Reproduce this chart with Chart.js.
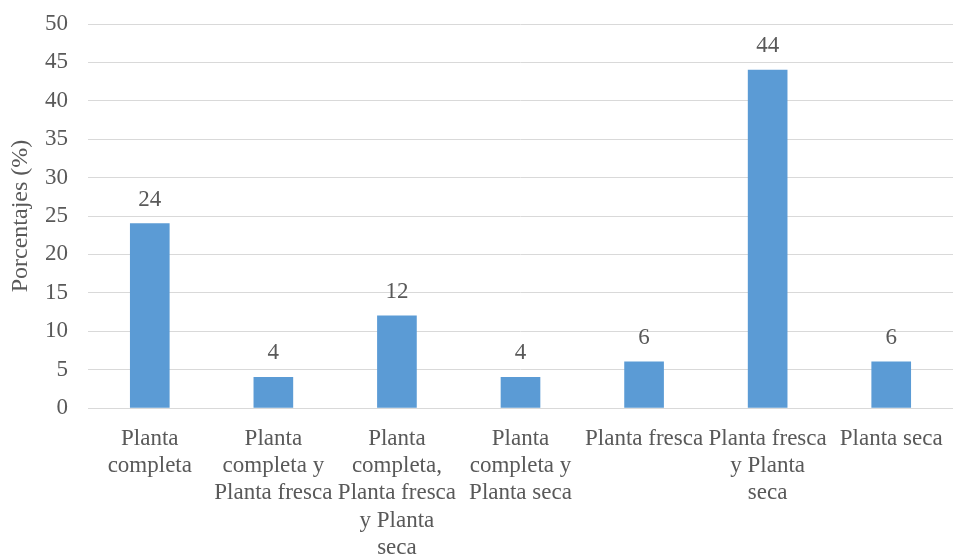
<!DOCTYPE html>
<html>
<head>
<meta charset="utf-8">
<script src="https://cdn.jsdelivr.net/npm/chart.js@4/dist/chart.umd.min.js"></script>
<style>
  html, body { margin: 0; padding: 0; background: #ffffff; }
  #wrap { width: 953px; height: 555px; }
</style>
</head>
<body>
<div id="wrap"><canvas id="c" width="953" height="555"></canvas></div>
<script>
// Categories (multi-line labels) and percentages
const categories = [
  ["Planta", "completa"],
  ["Planta", "completa y", "Planta fresca"],
  ["Planta", "completa,", "Planta fresca", "y Planta", "seca"],
  ["Planta", "completa y", "Planta seca"],
  ["Planta fresca"],
  ["Planta fresca", "y Planta", "seca"],
  ["Planta seca"]
];
const percentages = [24, 4, 12, 4, 6, 44, 6];
const yTicks = [0, 5, 10, 15, 20, 25, 30, 35, 40, 45, 50];

const textColor = '#595959';
const fontFamily = '"Liberation Serif", "Times New Roman", serif';

// Value labels above each bar
const valueLabels = {
  id: 'valueLabels',
  afterDatasetsDraw(chart) {
    const ctx = chart.ctx;
    const meta = chart.getDatasetMeta(0);
    ctx.save();
    ctx.fillStyle = textColor;
    ctx.font = '23px ' + fontFamily;
    ctx.textAlign = 'center';
    ctx.textBaseline = 'middle';
    meta.data.forEach((bar, i) => {
      ctx.fillText(String(percentages[i]), bar.x, bar.y - 24);
    });
    ctx.restore();
  }
};

new Chart(document.getElementById('c'), {
  type: 'bar',
  data: {
    labels: categories,
    datasets: [{
      data: percentages,
      backgroundColor: '#5b9bd5',
      borderWidth: 0,
      barThickness: 39
    }]
  },
  options: {
    responsive: false,
    animation: false,
    devicePixelRatio: 1,
    layout: { padding: { left: 0, right: 0, top: 24, bottom: 0 } },
    plugins: {
      legend: { display: false },
      tooltip: { enabled: false }
    },
    scales: {
      x: {
        grid: { display: false, drawTicks: false },
        border: { display: true, color: '#d9d9d9', width: 1 },
        ticks: {
          color: textColor,
          font: { family: fontFamily, size: 23, lineHeight: 1.19 },
          maxRotation: 0,
          minRotation: 0,
          autoSkip: false,
          padding: 17
        },
        afterFit(scale) {
          scale.height = 147;
          scale.paddingLeft = 0;
          scale.paddingRight = 0;
        }
      },
      y: {
        min: 0,
        max: 50,
        afterBuildTicks(scale) { scale.ticks = yTicks.map(v => ({ value: v })); },
        grid: { color: '#d9d9d9', lineWidth: 1, drawTicks: false },
        border: { display: false },
        ticks: {
          color: textColor,
          font: { family: fontFamily, size: 23 },
          padding: 20
        },
        title: {
          display: true,
          text: 'Porcentajes (%)',
          color: textColor,
          font: { family: fontFamily, size: 24 },
          padding: { top: 6, bottom: 0 }
        },
        afterFit(scale) {
          scale.width = 88;
          scale.paddingTop = 0;
          scale.paddingBottom = 0;
        }
      }
    }
  },
  plugins: [valueLabels]
});
</script>
</body>
</html>
